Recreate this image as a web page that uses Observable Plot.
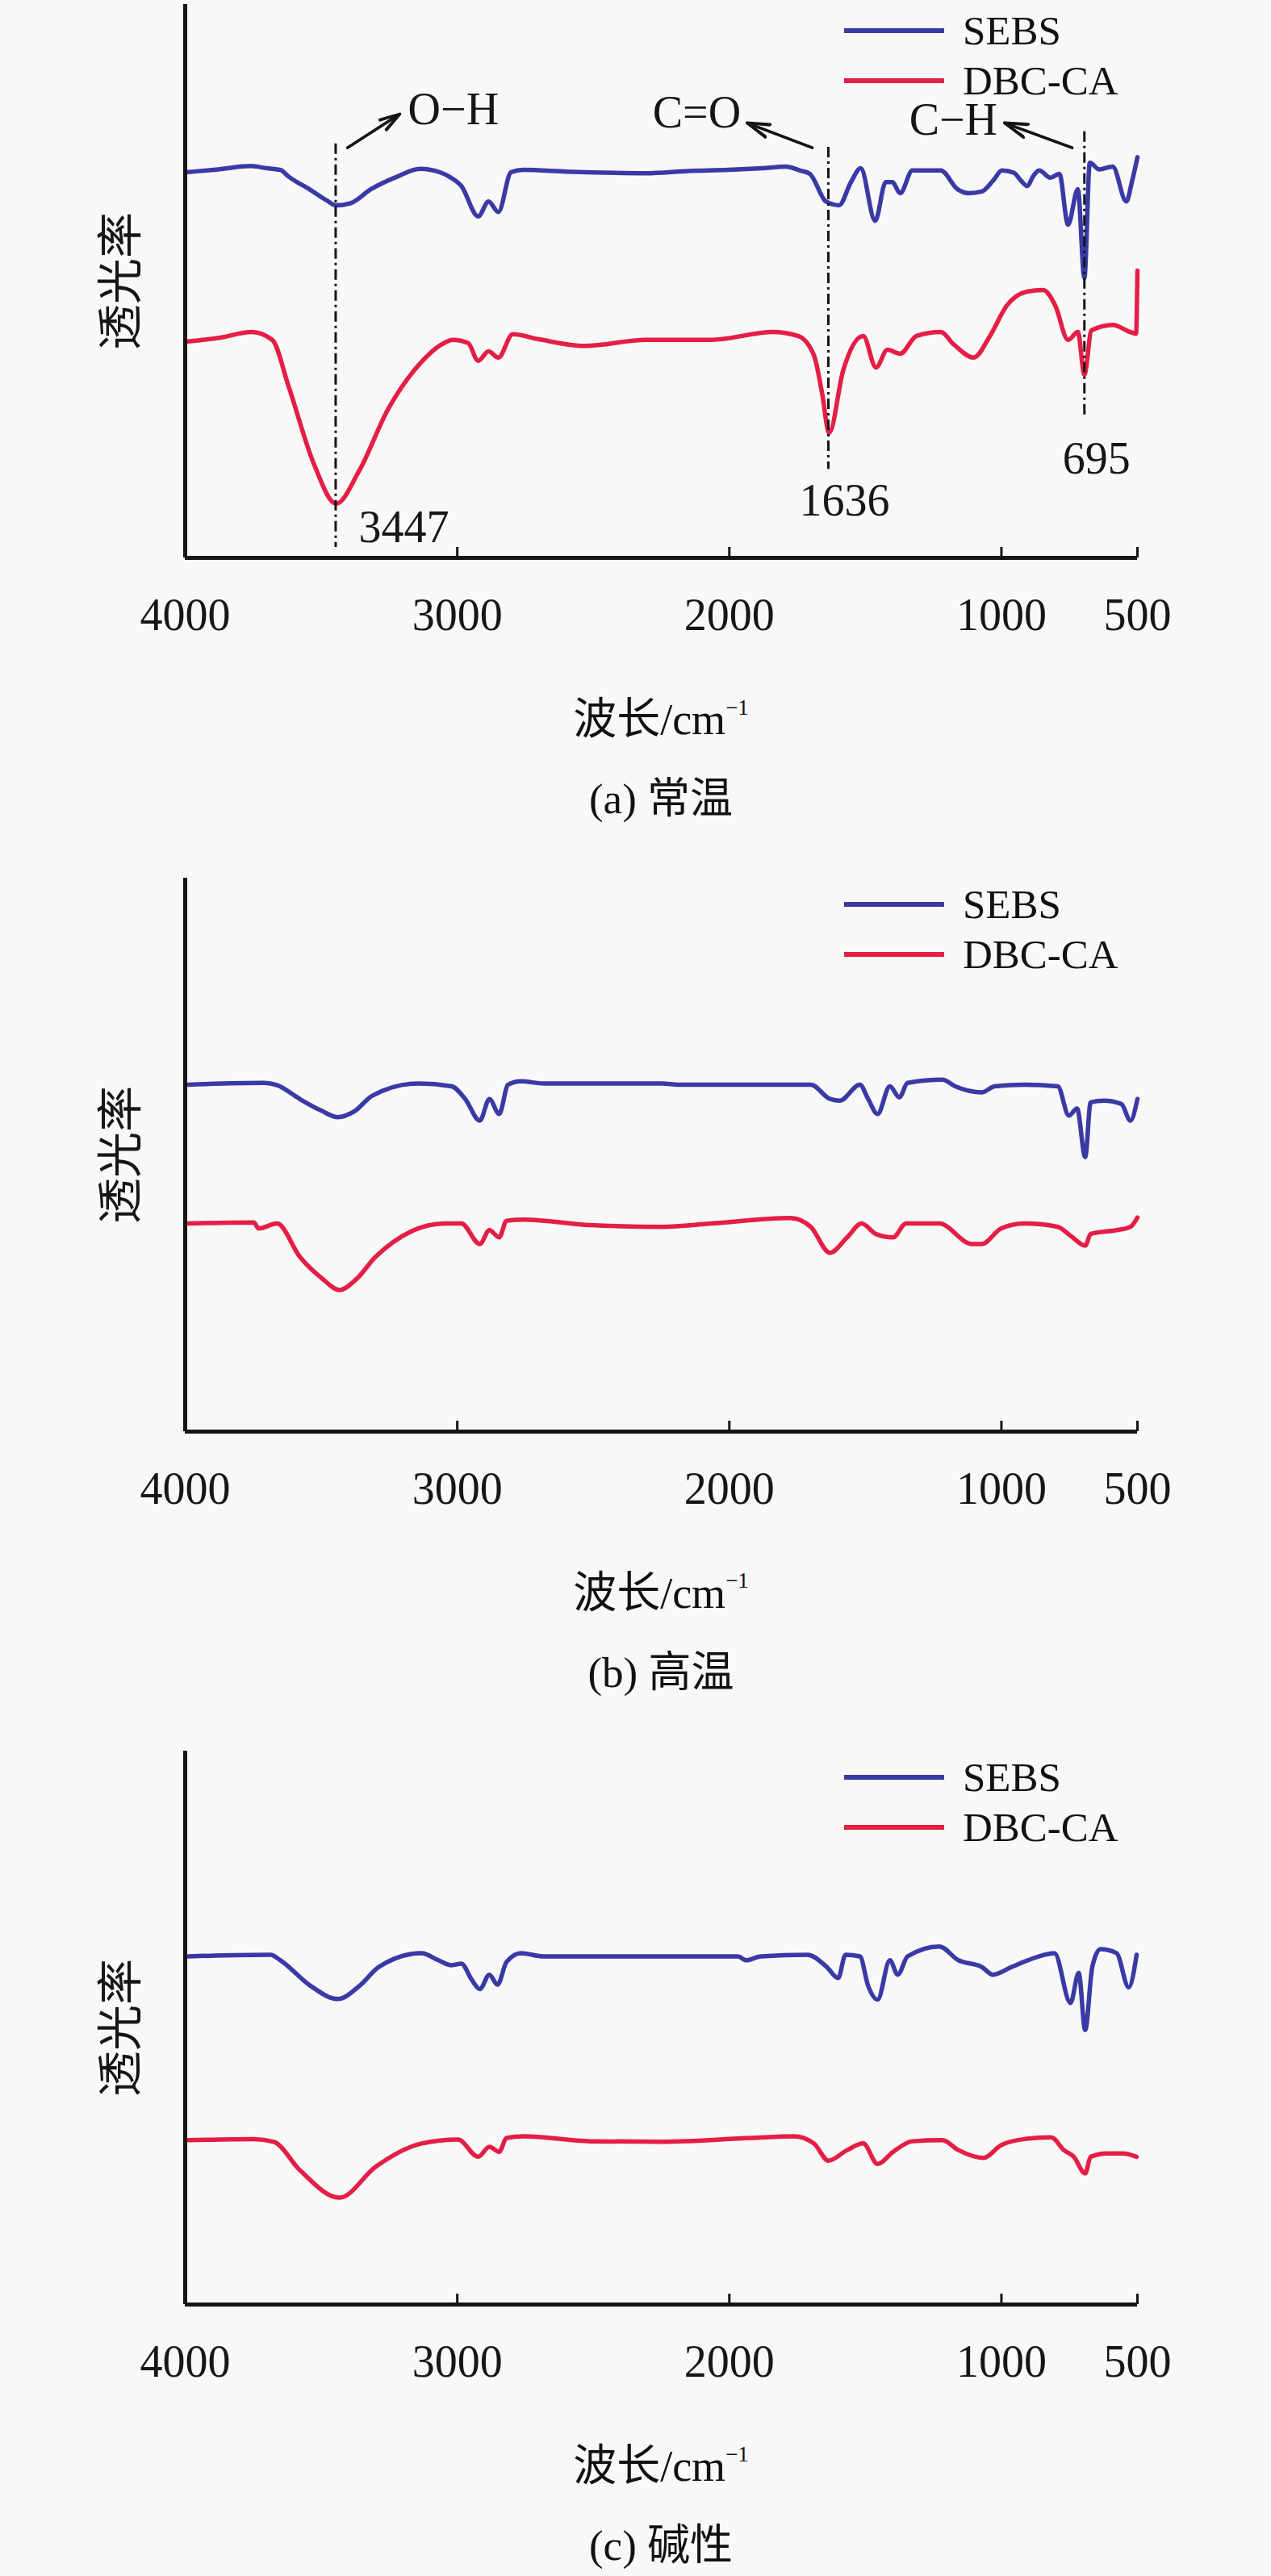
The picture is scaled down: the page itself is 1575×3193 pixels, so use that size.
<!DOCTYPE html>
<html><head><meta charset="utf-8">
<script src="https://cdn.jsdelivr.net/npm/d3@7"></script>
<script src="https://cdn.jsdelivr.net/npm/@observablehq/plot@0.6"></script>
<style>
html,body{margin:0;padding:0;background:#f8f8f8;width:1575px;height:3193px;overflow:hidden;}
.panel{position:relative;width:1575px;height:1082.5px;}
.panel svg{position:absolute;left:0;top:0;}
.xtitle,.caption{position:absolute;left:229px;width:1180px;height:80px;line-height:80px;text-align:center;
  font-family:"Liberation Serif","Noto Sans CJK SC",serif;color:#111;white-space:nowrap;}
.xtitle{top:852px;font-size:54px;}
.xtitle sup{font-size:0.5em;vertical-align:0;position:relative;top:-0.9em;}
.caption{top:950px;font-size:53px;}
.legend{position:absolute;left:1046px;top:7px;font-family:"Liberation Serif",serif;font-size:51px;color:#111;}
.legend .row{display:flex;align-items:center;height:62px;}
.legend .sw{width:124px;height:6px;margin-right:23px;}
</style>
</head><body>
<div id="root"></div>
<script>
// ---- data ----
const xTicks = [4000, 3000, 2000, 1000, 500];
const xTickLabels = ["4000", "3000", "2000", "1000", "500"];
const seriesNames = ["SEBS", "DBC-CA"];
const seriesColors = ["#3a3aa6", "#e41e45"];
const captions = ["(a) 常温", "(b) 高温", "(c) 碱性"];
const yLabel = "透光率";

// panel (a) room temperature: [wavenumber, transmittance (a.u.)]
const sebsNormal = [[3991,69.7],[3880,70.2],[3757,70.8],[3700,70.4],[3650,70.1],[3620,68.9],[3540,66.5],[3480,64.6],[3445,63.7],[3392,64.1],[3318,66.6],[3220,68.9],[3137,70.3],[3060,69.6],[3030,68.9],[2985,67.2],[2923,61.7],[2885,64.4],[2849,62.5],[2802,69.7],[2757,70.1],[2600,69.8],[2306,69.5],[2150,69.9],[2004,70.1],[1880,70.4],[1793,70.7],[1740,70.0],[1704,69.4],[1645,64.4],[1597,63.7],[1553,67.9],[1517,70.4],[1464,60.9],[1425,67.9],[1401,67.9],[1372,65.9],[1327,70.0],[1223,70.0],[1161,66.6],[1120,65.9],[1072,66.2],[1030,68.2],[998,70.0],[955,69.6],[925,68.0],[906,67.2],[880,69.2],[861,70.0],[820,68.7],[787,69.4],[755,60.2],[719,66.6],[695,50.6],[675,71.4],[640,70.2],[591,70.7],[541,64.4],[520,68.0],[500,72.4]];
const dbcNormal = [[3991,39.1],[3870,39.8],[3757,40.8],[3680,39.4],[3620,31.0],[3528,17.1],[3445,9.8],[3362,15.6],[3255,26.8],[3137,35.1],[3060,38.5],[3015,39.4],[2960,38.8],[2923,35.6],[2885,37.3],[2849,36.2],[2796,40.4],[2700,39.5],[2532,38.3],[2306,39.4],[2066,39.4],[1840,40.8],[1748,40.1],[1689,36.6],[1660,30.0],[1633,22.6],[1582,33.8],[1508,40.1],[1461,34.4],[1419,37.6],[1372,36.9],[1312,40.1],[1223,40.8],[1176,38.6],[1102,36.2],[1042,40.1],[980,45.6],[906,48.1],[847,48.4],[802,45.6],[755,39.4],[719,40.8],[695,33.1],[669,41.1],[591,42.1],[526,40.8],[505,40.5],[500,51.9]];

// panel (b) high temperature
const sebsHot = [[3988,62.7],[3709,63.0],[3662,62.6],[3579,60.1],[3500,58.0],[3439,56.8],[3380,57.8],[3312,60.7],[3143,62.9],[3021,62.4],[2971,60.1],[2917,56.2],[2882,60.1],[2846,57.4],[2813,62.7],[2766,63.3],[2683,62.9],[2247,62.9],[2187,62.7],[1944,62.7],[1701,62.7],[1630,60.1],[1594,59.8],[1520,62.7],[1490,60.1],[1455,57.4],[1410,62.4],[1375,60.4],[1345,63.0],[1217,63.6],[1170,62.4],[1072,61.3],[1025,62.4],[915,62.7],[793,62.4],[752,57.1],[722,58.4],[692,49.6],[672,59.5],[624,59.8],[559,59.2],[526,56.2],[500,60.1]];
const dbcHot = [[3988,37.6],[3748,37.8],[3730,36.7],[3662,37.6],[3579,31.6],[3500,27.8],[3433,25.6],[3370,27.6],[3300,31.6],[3045,37.6],[2985,37.6],[2917,33.9],[2882,36.4],[2846,35.1],[2819,38.1],[2754,38.3],[2511,37.3],[2247,37.0],[2066,37.6],[1775,38.6],[1701,37.0],[1630,32.3],[1567,35.1],[1514,37.6],[1461,35.7],[1398,35.1],[1351,37.6],[1229,37.6],[1108,33.9],[1072,33.9],[1001,36.7],[915,37.6],[793,37.0],[746,35.4],[692,33.6],[672,35.7],[577,36.4],[526,37.0],[500,38.7]];

// panel (c) alkaline
const sebsAlk = [[3988,62.9],[3686,63.2],[3650,62.2],[3540,57.6],[3439,55.2],[3359,57.6],[3288,61.0],[3131,63.5],[3069,62.2],[3021,61.3],[2985,61.6],[2947,58.7],[2917,57.0],[2882,59.6],[2852,57.8],[2819,61.9],[2766,63.5],[2683,62.9],[2247,62.9],[1968,62.9],[1938,62.2],[1885,62.9],[1713,63.2],[1642,61.0],[1600,59.0],[1573,63.2],[1520,62.9],[1490,57.6],[1455,55.1],[1410,62.2],[1381,59.6],[1345,62.9],[1229,64.7],[1158,62.2],[1072,61.0],[1031,59.6],[962,61.0],[903,62.2],[805,63.5],[746,54.5],[716,59.9],[692,49.6],[666,61.0],[636,64.2],[577,63.5],[532,57.3],[503,63.2]];
const dbcAlk = [[3988,29.7],[3748,29.9],[3674,29.4],[3579,24.3],[3433,19.3],[3300,24.9],[3131,29.1],[2997,29.8],[2923,26.7],[2882,28.5],[2846,27.6],[2819,30.1],[2754,30.4],[2511,29.5],[2247,29.4],[1920,30.1],[1763,30.4],[1689,29.1],[1636,26.0],[1567,27.9],[1508,29.1],[1455,25.4],[1398,27.6],[1327,29.5],[1217,29.7],[1158,27.9],[1066,26.5],[1001,28.8],[915,29.9],[817,30.2],[770,27.9],[734,26.7],[692,23.7],[672,26.7],[612,27.3],[553,27.3],[503,26.7]];

// annotations of panel (a), in data units
const peakWaves = [3447, 1636, 695];
const peakLabels = ["3447", "1636", "695"];
const guideTop = [74.8, 74.2, 77.0];
const guideBottom = [1.9, 16.0, 25.4];
const peakLabelAt = [[3362, 2.8], [1743, 7.6], [775, 15.3]];
const bondLabels = ["O−H", "C=O", "C−H"];
const bondLabelAt = [[3181, 78.3], [2282, 77.7], [1339, 76.4]];
const arrowFrom = [[3404, 74.1], [1695, 74.1], [740, 74.1]];
const arrowTo = [[3211, 80.2], [1935, 78.6], [989, 78.6]];

const panels = [
  {sebs: sebsNormal, dbc: dbcNormal, annotate: true},
  {sebs: sebsHot, dbc: dbcHot, annotate: false},
  {sebs: sebsAlk, dbc: dbcAlk, annotate: false}
];

// ---- drawing ----
const serif = '"Liberation Serif", "Times New Roman", serif';
const cjk = '"Noto Sans CJK SC", sans-serif';
const ink = "#161616";
const root = document.getElementById("root");
const asc = s => s.slice().sort((a, b) => a[0] - b[0]);

panels.forEach((p, k) => {
  const div = document.createElement("div");
  div.className = "panel";
  const marks = [
    Plot.line(asc(p.sebs), {x: d => d[0], y: d => d[1], stroke: seriesColors[0], strokeWidth: 5.5,
      strokeLinejoin: "round", curve: "monotone-x"}),
    Plot.line(asc(p.dbc), {x: d => d[0], y: d => d[1], stroke: seriesColors[1], strokeWidth: 5.5,
      strokeLinejoin: "round", curve: "monotone-x"}),
    Plot.ruleX([xTicks[0]], {stroke: ink, strokeWidth: 5}),
    Plot.ruleY([0], {stroke: ink, strokeWidth: 5}),
    Plot.tickX(xTicks.slice(1), {x: d => d, stroke: ink, strokeWidth: 3, insetTop: 673}),
    Plot.axisX(xTicks, {tickSize: 0, tickPadding: 50, fontSize: 56, fontFamily: serif,
      tickFormat: d => xTickLabels[xTicks.indexOf(d)]}),
    Plot.text([yLabel], {text: d => d, frameAnchor: "left", dx: -79, rotate: -90,
      fontSize: 57, fontFamily: cjk, fill: ink, textAnchor: "middle", lineAnchor: "middle"})
  ];
  if (p.annotate) {
    const idx = [0, 1, 2];
    marks.push(
      Plot.ruleX(idx, {x: i => peakWaves[i], y1: i => guideTop[i], y2: i => guideBottom[i],
        stroke: ink, strokeWidth: 3, strokeDasharray: "13,5,3,5"}),
      Plot.arrow(idx, {x1: i => arrowFrom[i][0], y1: i => arrowFrom[i][1], x2: i => arrowTo[i][0], y2: i => arrowTo[i][1],
        stroke: ink, strokeWidth: 3.5, headLength: 24, headAngle: 34}),
      Plot.arrow(idx, {x1: i => arrowFrom[i][0], y1: i => arrowFrom[i][1], x2: i => arrowTo[i][0], y2: i => arrowTo[i][1],
        stroke: ink, strokeWidth: 3, headLength: 14, headAngle: 30}),
      Plot.text(idx, {x: i => bondLabelAt[i][0], y: i => bondLabelAt[i][1], text: i => bondLabels[i],
        textAnchor: "start", lineAnchor: "bottom", fontSize: 56, fontFamily: serif, fill: ink}),
      Plot.text(idx, {x: i => peakLabelAt[i][0], y: i => peakLabelAt[i][1], text: i => peakLabels[i],
        textAnchor: "start", lineAnchor: "bottom", fontSize: 56, fontFamily: serif, fill: ink})
    );
  }
  const svg = Plot.plot({
    width: 1575, height: 800,
    marginLeft: 229, marginRight: 166, marginTop: 5, marginBottom: 109,
    x: {domain: [4000, 500]},
    y: {domain: [0, 100], axis: null},
    style: {background: "transparent", color: ink, fontFamily: serif, overflow: "visible"},
    marks
  });
  div.appendChild(svg);

  const legend = document.createElement("div");
  legend.className = "legend";
  seriesNames.forEach((n, i) => {
    const row = document.createElement("div");
    row.className = "row";
    const sw = document.createElement("span");
    sw.className = "sw";
    sw.style.background = seriesColors[i];
    const t = document.createElement("span");
    t.textContent = n;
    row.appendChild(sw); row.appendChild(t);
    legend.appendChild(row);
  });
  div.appendChild(legend);

  const xt = document.createElement("div");
  xt.className = "xtitle";
  xt.innerHTML = "波长/cm<sup>−1</sup>";
  div.appendChild(xt);

  const cap = document.createElement("div");
  cap.className = "caption";
  cap.textContent = captions[k];
  div.appendChild(cap);

  root.appendChild(div);
});
</script>
</body></html>
